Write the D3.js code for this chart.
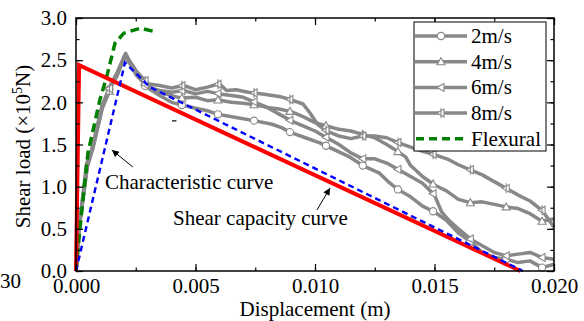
<!DOCTYPE html>
<html>
<head>
<meta charset="utf-8">
<script src="https://cdn.jsdelivr.net/npm/d3@7"></script>
<style>
  html, body { margin: 0; padding: 0; background: #fff; }
  svg { display: block; font-family: "Liberation Serif", "Times New Roman", serif; }
</style>
</head>
<body>
<svg id="chart" width="584" height="321"></svg>
<script>
// ---- data (x in m, y in 1e5 N) ----
var riseA = [[0, 0], [0.00013, 0.52], [0.00046, 1.25], [0.0007, 1.45], [0.0011, 1.95], [0.0015, 2.22], [0.0017, 2.3], [0.00205, 2.56]];

var speed2 = riseA.concat([[0.0024, 2.42], [0.0029, 2.19], [0.0035, 2.08], [0.0040, 2.0], [0.0044, 1.97], [0.005, 1.93], [0.0055, 1.9],
  [0.0059, 1.86], [0.0067, 1.82], [0.0075, 1.78], [0.0082, 1.74], [0.0086, 1.7], [0.009, 1.64], [0.0096, 1.58], [0.0102, 1.52],
  [0.0108, 1.44], [0.0114, 1.36], [0.012, 1.25], [0.0127, 1.16], [0.0131, 1.05], [0.0135, 0.96], [0.014, 0.88], [0.0145, 0.77],
  [0.015, 0.70], [0.0155, 0.60], [0.016, 0.45], [0.0165, 0.35], [0.017, 0.22], [0.0175, 0.16], [0.018, 0.14], [0.0185, 0.10],
  [0.019, 0.12], [0.0195, 0.04], [0.02, 0.08]]);

var speed4 = [[0, 0], [0.00015, 0.55], [0.00048, 1.24], [0.00072, 1.47], [0.0011, 1.93], [0.0015, 2.2], [0.0017, 2.32], [0.00205, 2.54],
  [0.0025, 2.36], [0.003, 2.2], [0.0035, 2.12], [0.004, 2.08], [0.0044, 2.05], [0.005, 2.06], [0.0055, 2.02], [0.0059, 2.03],
  [0.0065, 2.0], [0.007, 1.99], [0.0075, 1.97], [0.008, 1.94], [0.0085, 1.92], [0.009, 1.89], [0.0095, 1.83], [0.01, 1.76],
  [0.0105, 1.72], [0.011, 1.68], [0.0115, 1.66], [0.012, 1.62], [0.0125, 1.58], [0.013, 1.5], [0.0134, 1.43], [0.0138, 1.35],
  [0.014, 1.25], [0.0145, 1.12], [0.015, 1.02], [0.0155, 0.95], [0.016, 0.85], [0.0165, 0.81], [0.017, 0.82], [0.0175, 0.79],
  [0.018, 0.76], [0.0185, 0.74], [0.019, 0.68], [0.0195, 0.59], [0.02, 0.62]];

var speed6 = [[0, 0], [0.00012, 0.5], [0.00044, 1.27], [0.00068, 1.46], [0.0011, 1.97], [0.0015, 2.24], [0.0017, 2.33], [0.00208, 2.58],
  [0.0025, 2.33], [0.003, 2.18], [0.0035, 2.14], [0.004, 2.12], [0.0045, 2.14], [0.005, 2.1], [0.0055, 2.13], [0.006, 2.1],
  [0.0065, 2.08], [0.007, 2.06], [0.0075, 2.0], [0.008, 1.94], [0.0085, 1.86], [0.009, 1.78], [0.0095, 1.72], [0.01, 1.66],
  [0.0105, 1.58], [0.011, 1.5], [0.0115, 1.4], [0.012, 1.33], [0.0125, 1.33], [0.013, 1.28], [0.0135, 1.2], [0.014, 1.12],
  [0.0145, 1.04], [0.015, 0.9], [0.0153, 0.7], [0.0156, 0.6], [0.016, 0.5], [0.0165, 0.38], [0.017, 0.3], [0.0175, 0.22],
  [0.018, 0.18], [0.0185, 0.2], [0.019, 0.22], [0.0195, 0.16], [0.02, 0.14]];

var speed8 = [[0, 0], [0.00014, 0.53], [0.00047, 1.26], [0.0007, 1.48], [0.0011, 1.96], [0.0015, 2.23], [0.0017, 2.34], [0.00206, 2.57],
  [0.0025, 2.38], [0.003, 2.22], [0.0035, 2.2], [0.004, 2.17], [0.0045, 2.2], [0.005, 2.15], [0.0055, 2.18], [0.006, 2.22],
  [0.0063, 2.14], [0.0067, 2.15], [0.0072, 2.12], [0.0078, 2.1], [0.0085, 2.07], [0.009, 2.03], [0.0095, 1.98], [0.0098, 1.87],
  [0.0101, 1.74], [0.0105, 1.66], [0.011, 1.6], [0.0115, 1.57], [0.012, 1.6], [0.0125, 1.6], [0.013, 1.58], [0.0135, 1.52],
  [0.014, 1.47], [0.0145, 1.42], [0.015, 1.38], [0.0156, 1.32], [0.016, 1.26], [0.0165, 1.2], [0.017, 1.14], [0.0175, 1.06],
  [0.018, 0.98], [0.0185, 0.9], [0.019, 0.83], [0.0195, 0.72], [0.02, 0.52]];

var flexural = [[0, 0], [0.00017, 0.52], [0.0005, 1.4], [0.001, 2.03], [0.0013, 2.32], [0.00163, 2.7], [0.002, 2.82], [0.0027, 2.88], [0.0034, 2.83]];
var characteristic = [[0, 0], [0.00205, 2.47], [0.0031, 2.18], [0.0187, 0]];
var shearCapacity = [[0, 0], [0.00013, 2.44], [0.0186, 0]];

var markerX = [0.0014, 0.00289, 0.00443, 0.00594, 0.00745, 0.00895, 0.01046, 0.012, 0.01347, 0.01494, 0.0165, 0.018, 0.0195];

var legendLabels = ['2m/s', '4m/s', '6m/s', '8m/s', 'Flexural'];
var xTicks = [0, 0.005, 0.01, 0.015, 0.02];
var yTicks = [0, 0.5, 1.0, 1.5, 2.0, 2.5, 3.0];

// ---- layout ----
var svg = d3.select('#chart');
var margin = { left: 76, right: 30, top: 18, bottom: 50 };
var W = 584, H = 321;
var x = d3.scaleLinear().domain([0, 0.02]).range([margin.left, W - margin.right]);
var y = d3.scaleLinear().domain([0, 3]).range([H - margin.bottom, margin.top]);
var GRAY = '#888888';

var line = d3.line().x(function(d) { return x(d[0]); }).y(function(d) { return y(d[1]); });

// marker shapes
function drawMarker(g, kind, cx, cy) {
    var m = g.append('g').attr('transform', 'translate(' + cx + ',' + cy + ')');
    if (kind === 'circle') {
        m.append('circle').attr('r', 3.6);
    } else if (kind === 'tri') {
        m.append('path').attr('d', 'M0,-4L4,3L-4,3Z');
    } else if (kind === 'left') {
        m.append('path').attr('d', 'M-4,0L3,-4L3,4Z');
    } else {
        m.append('path').attr('d', 'M-4,0L3,-4L3,4Z');
        m.append('path').attr('d', 'M0,-5V5');
    }
    m.attr('fill', '#fff').attr('stroke', GRAY).attr('stroke-width', 1.1);
}

function pointAt(data, xv) {
    var i = d3.bisector(function(d) { return d[0]; }).left(data, xv);
    if (i <= 0) return data[0];
    if (i >= data.length) return data[data.length - 1];
    var a = data[i - 1], b = data[i];
    var t = (xv - a[0]) / (b[0] - a[0]);
    return [xv, a[1] + t * (b[1] - a[1])];
}

var series = [
    { data: speed2, kind: 'circle' },
    { data: speed4, kind: 'tri' },
    { data: speed6, kind: 'left' },
    { data: speed8, kind: 'bar' }
];

var plot = svg.append('g');

series.forEach(function(s) {
    plot.append('path').datum(s.data).attr('d', line)
        .attr('fill', 'none').attr('stroke', GRAY).attr('stroke-width', 3.5)
        .attr('stroke-linejoin', 'round');
});
series.forEach(function(s) {
    markerX.forEach(function(mx) {
        var p = pointAt(s.data, mx);
        drawMarker(plot, s.kind, x(p[0]), y(p[1]));
    });
});

plot.append('path').datum(flexural).attr('d', line)
    .attr('fill', 'none').attr('stroke', '#008000').attr('stroke-width', 3.5).attr('stroke-dasharray', '9,5');
plot.append('path').datum(shearCapacity).attr('d', line)
    .attr('fill', 'none').attr('stroke', '#ff0000').attr('stroke-width', 4);
plot.append('path').datum(characteristic).attr('d', line)
    .attr('fill', 'none').attr('stroke', '#0000ff').attr('stroke-width', 2.4).attr('stroke-dasharray', '6,4');

// ---- axes ----
var fmtY = d3.format('.1f'), fmtX = d3.format('.3f');
var yMinor = d3.range(0, 3.01, 0.25);
var xMinor = d3.range(0, 0.02001, 0.0025);

var axisStyle = function(g) {
    g.select('.domain').remove();
    g.selectAll('line').attr('stroke', '#000').attr('stroke-width', 1.2);
    g.selectAll('text').attr('font-size', 21).attr('fill', '#000')
        .attr('font-family', '"Liberation Serif", "Times New Roman", serif');
};

// bottom
svg.append('g').attr('transform', 'translate(0,' + y(0) + ')')
    .call(d3.axisBottom(x).tickValues(xMinor).tickSize(-3.5).tickFormat(''))
    .call(axisStyle);
svg.append('g').attr('transform', 'translate(0,' + y(0) + ')')
    .call(d3.axisBottom(x).tickValues(xTicks).tickSize(-7).tickPadding(7).tickFormat(fmtX))
    .call(axisStyle);
// top
svg.append('g').attr('transform', 'translate(0,' + y(3) + ')')
    .call(d3.axisTop(x).tickValues(xMinor).tickSize(-3.5).tickFormat(''))
    .call(axisStyle);
svg.append('g').attr('transform', 'translate(0,' + y(3) + ')')
    .call(d3.axisTop(x).tickValues(xTicks).tickSize(-7).tickFormat(''))
    .call(axisStyle);
// left
svg.append('g').attr('transform', 'translate(' + x(0) + ',0)')
    .call(d3.axisLeft(y).tickValues(yMinor).tickSize(-3.5).tickFormat(''))
    .call(axisStyle);
svg.append('g').attr('transform', 'translate(' + x(0) + ',0)')
    .call(d3.axisLeft(y).tickValues(yTicks).tickSize(-7).tickPadding(9).tickFormat(fmtY))
    .call(axisStyle);
// right
svg.append('g').attr('transform', 'translate(' + x(0.02) + ',0)')
    .call(d3.axisRight(y).tickValues(yMinor).tickSize(-3.5).tickFormat(''))
    .call(axisStyle);
svg.append('g').attr('transform', 'translate(' + x(0.02) + ',0)')
    .call(d3.axisRight(y).tickValues(yTicks).tickSize(-7).tickFormat(''))
    .call(axisStyle);

svg.append('rect')
    .attr('x', x(0)).attr('y', y(3))
    .attr('width', x(0.02) - x(0)).attr('height', y(0) - y(3))
    .attr('fill', 'none').attr('stroke', '#000').attr('stroke-width', 1.5);

// axis titles
svg.append('text').attr('x', (x(0) + x(0.02)) / 2).attr('y', 316)
    .attr('text-anchor', 'middle').attr('font-size', 21).text('Displacement (m)');

var yl = svg.append('text').attr('transform', 'translate(30,' + (y(1.5) + 2) + ') rotate(-90)')
    .attr('text-anchor', 'middle').attr('font-size', 21);
yl.append('tspan').text('Shear load (\u00d710');
yl.append('tspan').attr('font-size', 14).attr('dy', -8).text('5');
yl.append('tspan').attr('dy', 8).text('N)');

svg.append('text').attr('x', 0).attr('y', 288).attr('font-size', 21).text('30');

// ---- annotations ----
var defs = svg.append('defs');
defs.append('marker').attr('id', 'ah')
    .attr('viewBox', '0 -5 10 10').attr('refX', 10).attr('refY', 0)
    .attr('markerWidth', 9).attr('markerHeight', 7).attr('markerUnits', 'userSpaceOnUse')
    .attr('orient', 'auto')
    .append('path').attr('d', 'M0,-5L10,0L0,5Z').attr('fill', '#000');

var arrows = [
    { from: [0.00238, 1.233], to: [0.0015, 1.435] },
    { from: [0.01008, 0.723], to: [0.01063, 0.984] }
];
arrows.forEach(function(a) {
    svg.append('line')
        .attr('x1', x(a.from[0])).attr('y1', y(a.from[1]))
        .attr('x2', x(a.to[0])).attr('y2', y(a.to[1]))
        .attr('stroke', '#000').attr('stroke-width', 1).attr('marker-end', 'url(#ah)');
});

svg.append('text').attr('x', x(0.00121)).attr('y', y(0.972)).attr('font-size', 21).text('Characteristic curve');
svg.append('text').attr('x', x(0.00406)).attr('y', y(0.545)).attr('font-size', 21).text('Shear capacity curve');
svg.append('line').attr('x1', x(0.00402)).attr('x2', x(0.0042)).attr('y1', y(1.78)).attr('y2', y(1.78))
    .attr('stroke', '#000').attr('stroke-width', 1.2);

// ---- legend ----
var lg = svg.append('g');
lg.append('rect').attr('x', 414).attr('y', 22).attr('width', 132).attr('height', 129)
    .attr('fill', '#fff').attr('stroke', '#000').attr('stroke-width', 1);
var legendKinds = ['circle', 'tri', 'left', 'bar', 'flex'];
legendLabels.forEach(function(lab, i) {
    var ly = 36 + i * 25.7;
    if (legendKinds[i] === 'flex') {
        lg.append('line').attr('x1', 416).attr('x2', 467).attr('y1', ly).attr('y2', ly)
            .attr('stroke', '#008000').attr('stroke-width', 3.5).attr('stroke-dasharray', '8,5');
    } else {
        lg.append('line').attr('x1', 415).attr('x2', 467).attr('y1', ly).attr('y2', ly)
            .attr('stroke', GRAY).attr('stroke-width', 3.5);
        drawMarker(lg, legendKinds[i], 441, ly);
    }
    lg.append('text').attr('x', 471).attr('y', ly + 7).attr('font-size', 21).text(lab);
});
</script>
</body>
</html>
